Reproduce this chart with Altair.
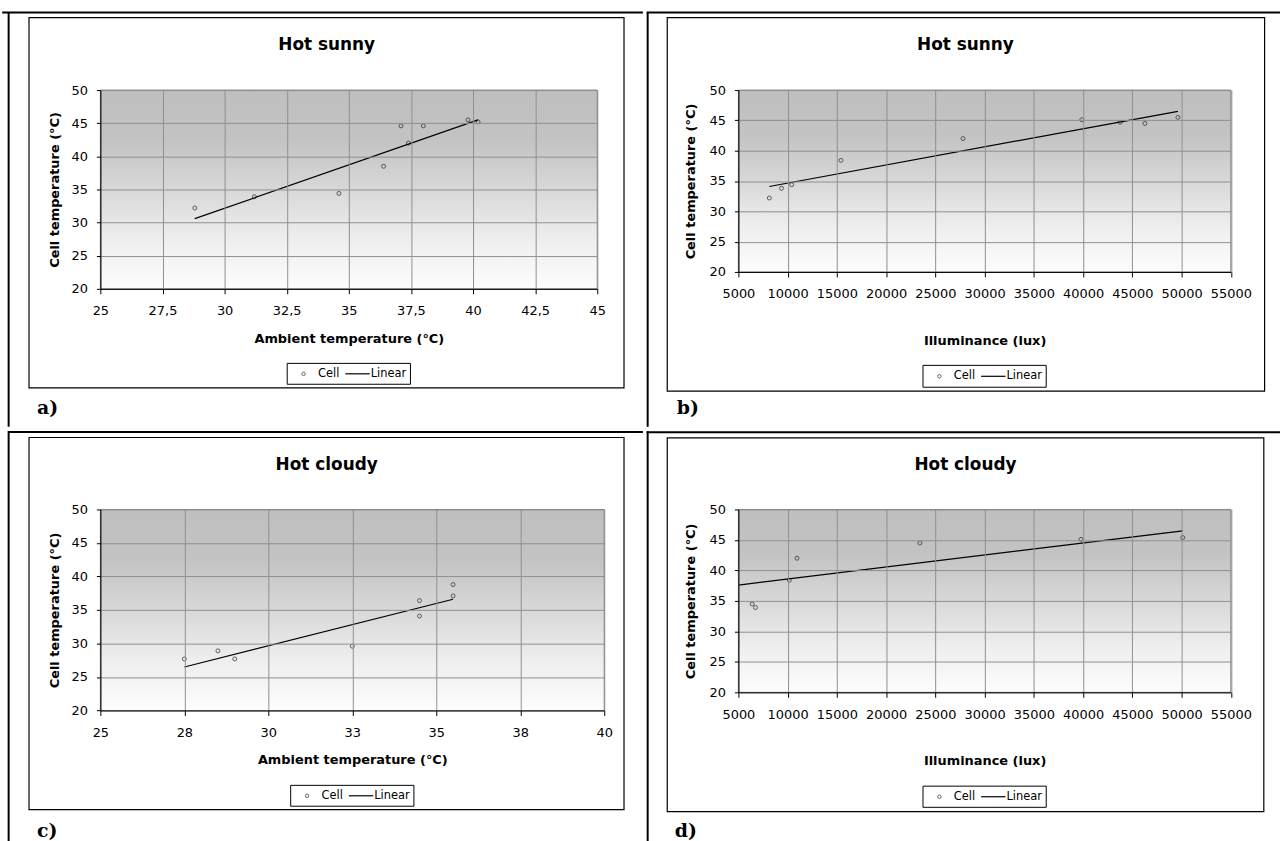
import altair as alt
import pandas as pd

# ------------------------------------------------------------------ data
# a) Hot sunny - ambient temperature vs cell temperature
A_AMBIENT = [28.8, 31.2, 34.6, 36.4, 37.1, 37.4, 38.0, 39.8, 40.2]
A_CELL = [32.2, 33.9, 34.4, 38.5, 44.6, 42.0, 44.6, 45.5, 45.2]
A_FIT_X = [28.8, 40.2]
A_FIT_Y = [30.6, 45.5]

# b) Hot sunny - illuminance vs cell temperature
B_LUX = [8140, 9380, 10410, 15410, 27810, 39870, 43760, 46280, 49630]
B_CELL = [32.2, 33.8, 34.4, 38.4, 42.0, 45.1, 44.7, 44.5, 45.5]
B_FIT_X = [8140, 49630]
B_FIT_Y = [34.1, 46.5]

# c) Hot cloudy - ambient temperature vs cell temperature
C_AMBIENT = [27.5, 28.5, 29.0, 32.5, 34.5, 34.5, 35.5, 35.5]
C_CELL = [27.7, 28.9, 27.7, 29.6, 36.4, 34.1, 38.8, 37.1]
C_FIT_X = [27.5, 35.5]
C_FIT_Y = [26.5, 36.6]

# d) Hot cloudy - illuminance vs cell temperature
D_LUX = [6400, 6740, 10170, 10950, 23430, 39790, 50120]
D_CELL = [34.5, 33.9, 38.4, 42.0, 44.5, 45.1, 45.4]
D_FIT_X = [5000, 50120]
D_FIT_Y = [37.6, 46.5]

# axis ticks and labels
TEMP_TICKS_A = [25, 27.5, 30, 32.5, 35, 37.5, 40, 42.5, 45]
TEMP_LABELS_A = ["25", "27,5", "30", "32,5", "35", "37,5", "40", "42,5", "45"]
TEMP_TICKS_C = [25, 27.5, 30, 32.5, 35, 37.5, 40]
TEMP_LABELS_C = ["25", "28", "30", "33", "35", "38", "40"]
LUX_TICKS = [5000, 10000, 15000, 20000, 25000, 30000, 35000, 40000, 45000, 50000, 55000]
LUX_LABELS = ["5000", "10000", "15000", "20000", "25000", "30000", "35000",
              "40000", "45000", "50000", "55000"]
CELL_TICKS = [20, 25, 30, 35, 40, 45, 50]
CELL_LABELS = ["20", "25", "30", "35", "40", "45", "50"]

TITLES = ["Hot sunny", "Hot sunny", "Hot cloudy", "Hot cloudy"]
X_TITLES = ["Ambient temperature (°C)", "Illuminance (lux)",
            "Ambient temperature (°C)", "Illuminance (lux)"]
Y_TITLE = "Cell temperature (°C)"
PANEL_TAGS = ["a)", "b)", "c)", "d)"]
LEGEND_NAMES = ["Cell", "Linear"]

# ------------------------------------------------------------------ layout (page pixels)
FONT = "DejaVu Sans"
LAYOUT = [
    dict(plot=(98.8, 87, 500, 200), frame=(27, 14, 625.7, 386.7), title=(326.5, 42),
         ytitle_x=53, xtitle_y=337, legend=(362, 383), tag=(35, 413),
         cell=(0, 0, 644.7, 425.7),
         lines=[(0, 9, 644.7, 9), (6.5, 9, 6.5, 425.7)]),
    dict(plot=(737, 87, 495.5, 183), frame=(665.4, 14, 1266.5, 390), title=(965.5, 42),
         ytitle_x=689, xtitle_y=339, legend=(364, 386), tag=(675, 413),
         cell=(644.7, 0, 1282, 425.7),
         lines=[(644.7, 9, 1282, 9), (645.7, 9, 645.7, 425.7)]),
    dict(plot=(98.8, 504.7, 507, 202.3), frame=(27, 432.3, 625.7, 806.7), title=(326.5, 460),
         ytitle_x=53, xtitle_y=756, legend=(782.3, 803.3), tag=(35, 834),
         cell=(0, 425.7, 644.7, 841),
         lines=[(6.5, 425.7, 6.5, 841), (6.5, 426.7, 644.7, 426.7)]),
    dict(plot=(737, 504.3, 495.5, 184), frame=(665.4, 432.3, 1265.7, 808.3), title=(965.5, 460),
         ytitle_x=689, xtitle_y=757.3, legend=(782.7, 804), tag=(673, 834),
         cell=(644.7, 425.7, 1282, 841),
         lines=[(645.7, 425.7, 645.7, 841), (644.7, 426.7, 1282, 426.7)]),
]

PLOT_BG = alt.Gradient(
    gradient="linear", x1=0, x2=0, y1=0, y2=1,
    stops=[alt.GradientStop(color="#bfbfbf", offset=0),
           alt.GradientStop(color="#c3c3c3", offset=0.25),
           alt.GradientStop(color="#d8d8d8", offset=0.5),
           alt.GradientStop(color="#eeeeee", offset=0.75),
           alt.GradientStop(color="#fdfdfd", offset=1)])


def label_expr(ticks, labels):
    t = ",".join(repr(float(v)) for v in ticks)
    l = ",".join("'" + s + "'" for s in labels)
    return f"[{l}][indexof([{t}], datum.value)]"


def panel(i, xs, ys, fitx, fity, xticks, xlabels, xdomain):
    L = LAYOUT[i]
    px, py, W, H = L["plot"]

    def rx(v):
        return v - px

    def ry(v):
        return v - py

    one = alt.Data(values=[{"k": 0}])
    layers = []

    # table cell (sets panel bounds)
    cx0, cy0, cx1, cy1 = L["cell"]
    layers.append(alt.Chart(one).mark_rect(fill="white", strokeWidth=0).encode(
        x=alt.value(rx(cx0)), x2=alt.value(rx(cx1)),
        y=alt.value(ry(cy0)), y2=alt.value(ry(cy1))))
    # table rules
    for (x0, y0, x1, y1) in L["lines"]:
        layers.append(alt.Chart(one).mark_rule(color="black", strokeWidth=2).encode(
            x=alt.value(rx(x0)), x2=alt.value(rx(x1)),
            y=alt.value(ry(y0)), y2=alt.value(ry(y1))))
    # chart frame
    fx0, fy0, fx1, fy1 = L["frame"]
    layers.append(alt.Chart(one).mark_rect(fill="white", stroke="black", strokeWidth=1.2).encode(
        x=alt.value(rx(fx0)), x2=alt.value(rx(fx1)),
        y=alt.value(ry(fy0)), y2=alt.value(ry(fy1))))
    # plot background
    layers.append(alt.Chart(one).mark_rect(fill=PLOT_BG, stroke="#808080", strokeWidth=1).encode(
        x=alt.value(0), x2=alt.value(W), y=alt.value(0), y2=alt.value(H)))

    xaxis = alt.Axis(values=xticks, labelExpr=label_expr(xticks, xlabels), title=X_TITLES[i],
                     titleX=W / 2, titleY=ry(L["xtitle_y"]) - H, titleBaseline="middle",
                     tickSize=5, labelPadding=11, labelFlush=False, labelOverlap=False,
                     grid=True, zindex=1)
    yaxis = alt.Axis(values=CELL_TICKS, labelExpr=label_expr(CELL_TICKS, CELL_LABELS), title=Y_TITLE,
                     titleX=rx(L["ytitle_x"]), titleY=H / 2, titleAngle=270, titleBaseline="middle",
                     tickSize=4, labelPadding=9, labelFlush=False, labelOverlap=False,
                     grid=True, zindex=1)
    xs_scale = alt.Scale(domain=xdomain, nice=False, zero=False)
    ys_scale = alt.Scale(domain=[20, 50], nice=False, zero=False)

    pts = pd.DataFrame({"x": xs, "y": ys})
    fit = pd.DataFrame({"x": fitx, "y": fity})
    layers.append(alt.Chart(pts).mark_point(shape="circle", filled=False, size=16,
                                            color="#222222", strokeWidth=1).encode(
        x=alt.X("x:Q", scale=xs_scale, axis=xaxis),
        y=alt.Y("y:Q", scale=ys_scale, axis=yaxis)))
    layers.append(alt.Chart(fit).mark_line(color="black", strokeWidth=1.2).encode(
        x=alt.X("x:Q", scale=xs_scale, axis=xaxis),
        y=alt.Y("y:Q", scale=ys_scale, axis=yaxis)))

    # chart title
    tx, ty = L["title"]
    layers.append(alt.Chart(one).mark_text(text=TITLES[i], font=FONT, fontSize=17, fontWeight="bold",
                                           align="center", baseline="middle", color="black").encode(
        x=alt.value(rx(tx)), y=alt.value(ry(ty))))

    # legend
    lt, lb = L["legend"]
    cm = W / 2
    mid = (ry(lt) + ry(lb)) / 2
    layers.append(alt.Chart(one).mark_rect(fill="white", stroke="black", strokeWidth=1).encode(
        x=alt.value(cm - 62), x2=alt.value(cm + 62), y=alt.value(ry(lt)), y2=alt.value(ry(lb))))
    layers.append(alt.Chart(one).mark_point(shape="circle", filled=False, size=12,
                                            color="#222222", strokeWidth=1).encode(
        x=alt.value(cm - 45.5), y=alt.value(mid)))
    layers.append(alt.Chart(one).mark_text(text=LEGEND_NAMES[0], font=FONT, fontSize=11.5, align="left",
                                           baseline="middle", color="black").encode(
        x=alt.value(cm - 31), y=alt.value(mid)))
    layers.append(alt.Chart(one).mark_rule(color="black", strokeWidth=1.2).encode(
        x=alt.value(cm - 3.5), x2=alt.value(cm + 21), y=alt.value(mid)))
    layers.append(alt.Chart(one).mark_text(text=LEGEND_NAMES[1], font=FONT, fontSize=11.5, align="left",
                                           baseline="middle", color="black").encode(
        x=alt.value(cm + 22), y=alt.value(mid)))

    # panel tag a) b) ...
    gx, gy = L["tag"]
    layers.append(alt.Chart(one).mark_text(text=PANEL_TAGS[i], font="DejaVu Serif", fontSize=19,
                                           fontWeight="bold", align="left", baseline="alphabetic",
                                           color="black").encode(
        x=alt.value(rx(gx)), y=alt.value(ry(gy))))

    return alt.layer(*layers).properties(width=W, height=H)


pa = panel(0, A_AMBIENT, A_CELL, A_FIT_X, A_FIT_Y, TEMP_TICKS_A, TEMP_LABELS_A, [25, 45])
pb = panel(1, B_LUX, B_CELL, B_FIT_X, B_FIT_Y, LUX_TICKS, LUX_LABELS, [5000, 55000])
pc = panel(2, C_AMBIENT, C_CELL, C_FIT_X, C_FIT_Y, TEMP_TICKS_C, TEMP_LABELS_C, [25, 40])
pd_ = panel(3, D_LUX, D_CELL, D_FIT_X, D_FIT_Y, LUX_TICKS, LUX_LABELS, [5000, 55000])

chart = alt.vconcat(
    alt.hconcat(pa, pb, spacing=0),
    alt.hconcat(pc, pd_, spacing=0),
    spacing=0,
).properties(padding=0, background="white").configure_axis(
    labelFont=FONT, labelFontSize=13, labelColor="black",
    titleFont=FONT, titleFontSize=13, titleFontWeight="bold", titleColor="black",
    domainColor="black", domainWidth=1, tickColor="black", tickWidth=1,
    gridColor="#8f8f8f", gridWidth=1,
).configure_view(stroke="#808080")

chart.save("out.html", embed_options={"renderer": "svg", "actions": False})
